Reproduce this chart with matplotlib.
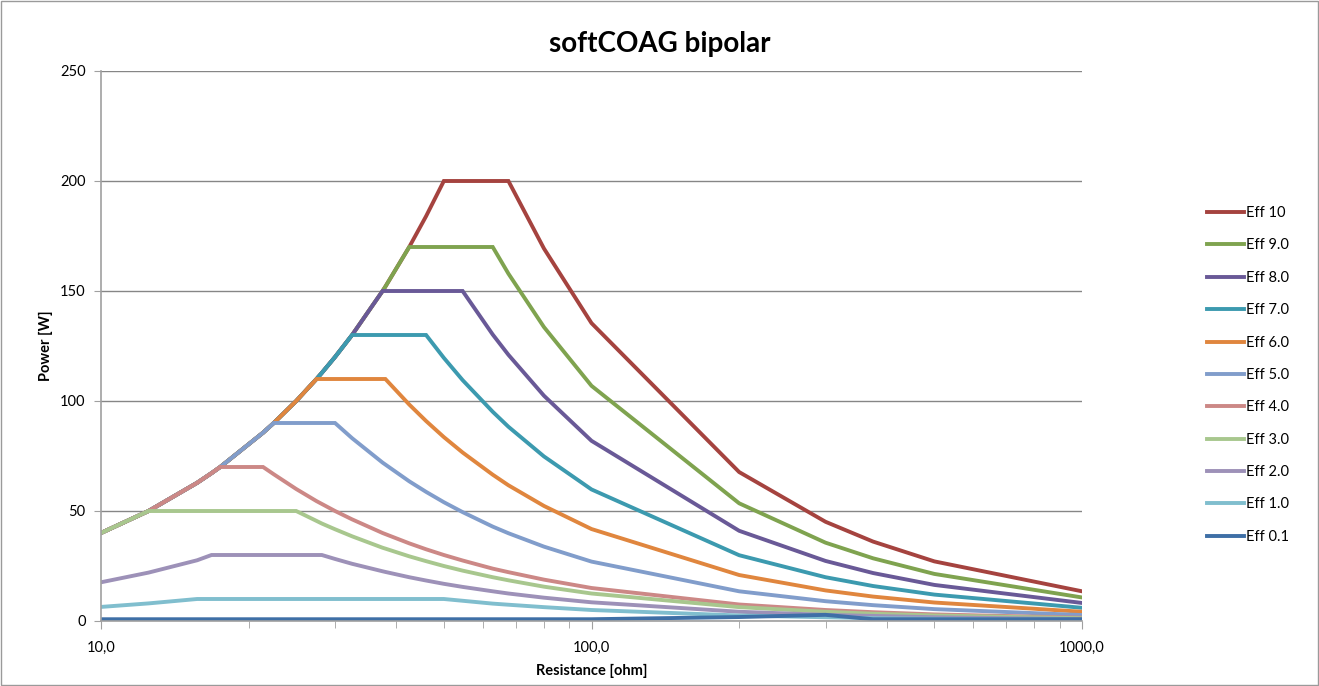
import matplotlib
matplotlib.use('Agg')
import matplotlib.pyplot as plt
from matplotlib.ticker import FixedLocator, FuncFormatter, NullFormatter, LogLocator
from matplotlib.patches import Rectangle

plt.rcParams['font.family'] = ['Lato', 'DejaVu Sans']

# resistance points [ohm], shared by all series
resistance = [10, 12.5, 15.7, 16.8, 17.5, 21.4, 22.5, 25, 27.5, 28.2, 30, 32.5, 37.5, 38,
              42.5, 46, 50, 54.6, 62.9, 67.7, 80, 100, 200, 300, 375, 500, 1000]

# power [W] per effect level
eff_10 = [40, 50, 62.8, 67.2, 70, 85.6, 90, 100, 110, 112.8, 120, 130, 150, 152,
          170, 184, 200, 200, 200, 200, 169.3, 135.4, 67.7, 45.1, 36.1, 27.1, 13.5]
eff_9 = [40, 50, 62.8, 67.2, 70, 85.6, 90, 100, 110, 112.8, 120, 130, 150, 152,
         170, 170, 170, 170, 170, 157.9, 133.6, 106.9, 53.5, 35.6, 28.5, 21.4, 10.7]
eff_8 = [40, 50, 62.8, 67.2, 70, 85.6, 90, 100, 110, 112.8, 120, 130, 150, 150,
         150, 150, 150, 150, 130.2, 121.0, 102.4, 81.9, 41.0, 27.3, 21.8, 16.4, 8.2]
eff_7 = [40, 50, 62.8, 67.2, 70, 85.6, 90, 100, 110, 112.8, 120, 130, 130, 130,
         130, 130, 119.6, 109.5, 95.1, 88.3, 74.8, 59.8, 29.9, 19.9, 15.9, 12.0, 6.0]
eff_6 = [40, 50, 62.8, 67.2, 70, 85.6, 90, 100, 110, 110, 110, 110, 110, 110,
         98.4, 90.9, 83.6, 76.6, 66.5, 61.7, 52.3, 41.8, 20.9, 13.9, 11.1, 8.4, 4.2]
eff_5 = [40, 50, 62.8, 67.2, 70, 85.6, 90, 90, 90, 90, 90, 83.1, 72.0, 71.1,
         63.5, 58.7, 54.0, 49.5, 42.9, 39.9, 33.8, 27.0, 13.5, 9.0, 7.2, 5.4, 2.7]
eff_4 = [40, 50, 62.8, 67.2, 70, 70, 66.7, 60.0, 54.5, 53.2, 50.0, 46.2, 40.0, 39.5,
         35.3, 32.6, 30.0, 27.5, 23.8, 22.2, 18.8, 15.0, 7.5, 5.0, 4.0, 3.0, 1.5]
eff_3 = [40, 50, 50, 50, 50, 50, 50, 50, 45.5, 44.3, 41.7, 38.5, 33.3, 32.9,
         29.4, 27.2, 25.0, 22.9, 19.9, 18.5, 15.6, 12.5, 6.3, 4.2, 3.3, 2.5, 1.25]
eff_2 = [17.6, 22, 27.6, 30, 30, 30, 30, 30, 30, 30, 28.2, 26.0, 22.6, 22.3,
         19.9, 18.4, 16.9, 15.5, 13.5, 12.5, 10.6, 8.5, 4.2, 2.8, 2.3, 1.7, 0.85]
eff_1 = [6.4, 8, 10, 10, 10, 10, 10, 10, 10, 10, 10, 10, 10, 10,
         10, 10, 10, 9.2, 7.9, 7.4, 6.3, 5.0, 2.5, 1.7, 1.3, 1.0, 0.5]
eff_01 = [0.8, 0.8, 0.8, 0.8, 0.8, 0.8, 0.8, 0.8, 0.8, 0.8, 0.8, 0.8, 0.8, 0.8,
          0.8, 0.8, 0.8, 0.8, 0.8, 0.8, 0.8, 0.8, 1.8, 2.8, 0.8, 0.8, 0.8]

series = [eff_10, eff_9, eff_8, eff_7, eff_6, eff_5, eff_4, eff_3, eff_2, eff_1, eff_01]
labels = ['Eff 10', 'Eff 9.0', 'Eff 8.0', 'Eff 7.0', 'Eff 6.0', 'Eff 5.0',
          'Eff 4.0', 'Eff 3.0', 'Eff 2.0', 'Eff 1.0', 'Eff 0.1']
colors = ['#A5433F', '#7FA34F', '#695997', '#3C9AAF', '#E0863E', '#819DCB',
          '#CC8886', '#A8C78E', '#9D91B8', '#80BECE', '#3E6FA6']

fig = plt.figure(figsize=(13.19, 6.86), dpi=100)
ax = fig.add_axes([101 / 1319, 1 - 621 / 686, 981 / 1319, 550 / 686])

for vals, lab, col in zip(series, labels, colors):
    ax.plot(resistance, vals, color=col, lw=2.8, label=lab, solid_joinstyle='miter')

ax.set_xscale('log')
ax.set_xlim(10, 1000)
ax.set_ylim(0, 250)
ax.set_yticks([0, 50, 100, 150, 200, 250])
ax.xaxis.set_major_locator(FixedLocator([10, 100, 1000]))
ax.xaxis.set_major_formatter(FuncFormatter(lambda v, p: '{:.1f}'.format(v).replace('.', ',')))
ax.xaxis.set_minor_locator(LogLocator(base=10, subs=range(2, 10)))
ax.xaxis.set_minor_formatter(NullFormatter())

ax.grid(axis='y', color='#868686', lw=1)
ax.set_axisbelow(True)
for s in ['top', 'right']:
    ax.spines[s].set_visible(False)
for s in ['left', 'bottom']:
    ax.spines[s].set_color('#A0A0A0')
    ax.spines[s].set_linewidth(1.2)
ax.tick_params(axis='both', which='both', color='#A0A0A0', labelsize=10.5, direction='out')
ax.tick_params(axis='x', which='major', length=6, pad=8)
ax.tick_params(axis='x', which='minor', length=5)
ax.tick_params(axis='y', length=5, pad=6)

ax.set_xlabel('Resistance [ohm]', fontsize=10.5, fontweight='bold', labelpad=7)
ax.set_ylabel('Power [W]', fontsize=10.5, fontweight='bold', labelpad=5)
fig.suptitle('softCOAG bipolar', x=0.5, y=0.955, fontsize=20, fontweight='bold')

ax.legend(loc='upper left', bbox_to_anchor=(1194 / 1319, 1 - 193 / 686),
          bbox_transform=fig.transFigure, frameon=False, fontsize=10.5,
          handlelength=2.5, handletextpad=0.15, labelspacing=1.26)

fig.add_artist(Rectangle((0.001, 0.001), 0.998, 0.997, transform=fig.transFigure,
                         fill=False, edgecolor='#9A9A9A', lw=1))

fig.savefig('out.png', dpi=100)
